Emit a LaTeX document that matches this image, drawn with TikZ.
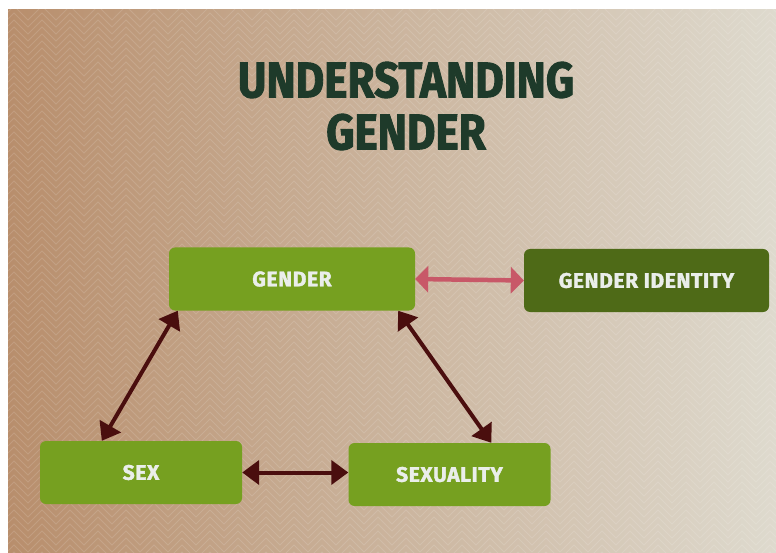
\documentclass[tikz,border=0pt]{standalone}
\usepackage{fontspec}
\setmainfont{Fira Sans}
\usetikzlibrary{arrows.meta}

\definecolor{leaf}{HTML}{76A020}
\definecolor{moss}{HTML}{4E6A17}
\definecolor{pine}{HTML}{1E3A2A}
\definecolor{rosy}{HTML}{C85868}
\definecolor{maroon}{HTML}{4A0E0E}
\definecolor{label}{HTML}{EAEEEA}

\tikzset{
  topic/.style={fill=leaf, rounded corners=6pt, inner sep=0pt,
    minimum width=202pt, minimum height=63pt, text=label,
    font=\fontsize{21}{23}\selectfont\bfseries\addfontfeature{FakeBold=1.8,LetterSpace=3}},
  link/.style={maroon, line width=4pt,
    {Triangle[length=17pt,width=24pt]}-{Triangle[length=17pt,width=24pt]}},
  pairlink/.style={rosy, line width=4.5pt,
    {Triangle[length=13pt,width=26pt]}-{Triangle[length=13pt,width=26pt]}}
}

\begin{document}
\begin{tikzpicture}[x=1pt,y=-1pt]
  \useasboundingbox (0,0) rectangle (776,553);
  \fill[white] (0,0) rectangle (776,553);
  \shade[left color={rgb,255:red,184;green,142;blue,108},
         middle color={rgb,255:red,206;green,186;blue,163},
         right color={rgb,255:red,222;green,218;blue,206}]
    (8,10) rectangle (776,553);
  % chevron texture
  \begin{scope}
    \clip (8,10) rectangle (776,553);
    \foreach \r in {0,...,82}
      \draw[white, opacity=0.13, line width=0.8pt]
        (0,20+7*\r) \foreach \k in {0,...,27} { -- ++(14,-14) -- ++(14,14) };
  \end{scope}

  % title
  \node[text=pine, font=\fontsize{50}{52}\selectfont\bfseries\addfontfeature{FakeBold=2},
        xscale=0.88, align=center] (title) at (406,106) {UNDERSTANDING\\GENDER};

  % boxes
  \node[topic, minimum width=246pt] (gender) at (292,279) {GENDER};
  \node[topic, fill=moss, minimum width=245pt] (identity) at (646.5,280.5) {GENDER IDENTITY};
  \node[topic] (sex) at (141,472.5) {SEX};
  \node[topic] (sexuality) at (449.5,474.5) {SEXUALITY};

  % arrows
  \draw[pairlink] (gender.east) -- (identity.west);
  \draw[link] ([xshift=9pt]gender.south west) -- ([xshift=62pt]sex.north west);
  \draw[link] ([xshift=-17pt]gender.south east) -- ([xshift=143pt]sexuality.north west);
  \draw[link] (sex.east) -- (sexuality.west |- sex.east);
\end{tikzpicture}
\end{document}
